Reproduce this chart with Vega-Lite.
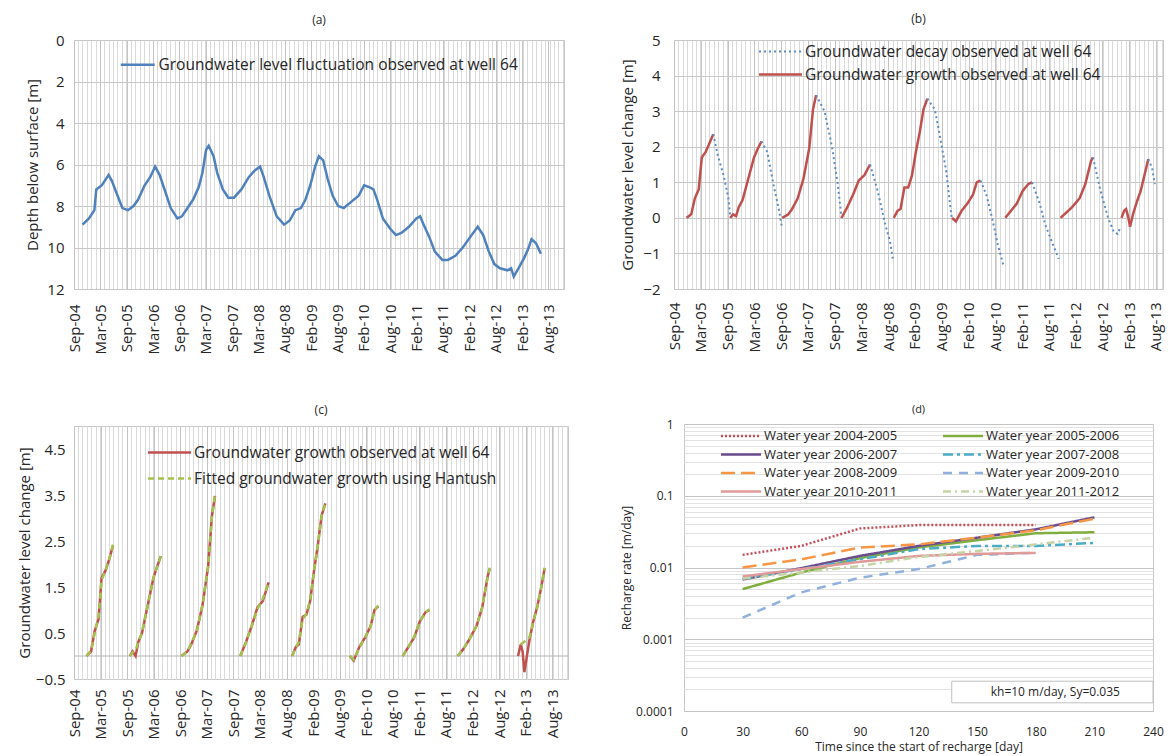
{
  "$schema": "https://vega.github.io/schema/vega-lite/v6.json",
  "background": "white",
  "padding": {"left": 16, "top": 12, "right": 5, "bottom": 2},
  "config": {
    "font": "Open Sans",
    "axis": {"labelColor": "#262626", "titleColor": "#262626", "titleFontWeight": "normal", "domain": false, "ticks": false, "labelFontSize": 15, "titleFontSize": 15, "gridColor": "#c8c8c8", "labelFlush": false, "labelOverlap": false},
    "legend": {"labelColor": "#262626", "padding": 0, "labelFontSize": 15.5, "title": null, "labelLimit": 600},
    "title": {"fontWeight": "normal", "fontSize": 12, "color": "#262626"},
    "view": {"stroke": "#c8c8c8"}
  },
  "columns": 2,
  "align": "none",
  "spacing": {"row": 48, "column": 51},
  "resolve": {"scale": {"color": "independent", "strokeDash": "independent", "strokeWidth": "independent"}},
  "datasets": {
    "a": [
      {"d": "2004-11-02", "v": 8.9}, {"d": "2004-12-16", "v": 8.6}, {"d": "2005-01-23", "v": 8.2}, {"d": "2005-02-05", "v": 7.2},
      {"d": "2005-03-16", "v": 7.0}, {"d": "2005-05-01", "v": 6.5}, {"d": "2005-05-24", "v": 6.8}, {"d": "2005-06-26", "v": 7.4},
      {"d": "2005-08-04", "v": 8.1}, {"d": "2005-09-12", "v": 8.2}, {"d": "2005-10-20", "v": 8.0}, {"d": "2005-11-20", "v": 7.7},
      {"d": "2006-01-05", "v": 7.0}, {"d": "2006-02-13", "v": 6.6}, {"d": "2006-03-18", "v": 6.1}, {"d": "2006-04-18", "v": 6.5},
      {"d": "2006-05-27", "v": 7.3}, {"d": "2006-07-04", "v": 8.1}, {"d": "2006-08-19", "v": 8.6}, {"d": "2006-09-19", "v": 8.5},
      {"d": "2006-10-28", "v": 8.1}, {"d": "2006-12-05", "v": 7.7}, {"d": "2007-01-13", "v": 7.1}, {"d": "2007-02-08", "v": 6.4},
      {"d": "2007-03-05", "v": 5.3}, {"d": "2007-03-23", "v": 5.1}, {"d": "2007-04-26", "v": 5.6}, {"d": "2007-05-21", "v": 6.4},
      {"d": "2007-06-29", "v": 7.2}, {"d": "2007-08-06", "v": 7.6}, {"d": "2007-09-14", "v": 7.6}, {"d": "2007-11-04", "v": 7.2},
      {"d": "2007-12-26", "v": 6.6}, {"d": "2008-02-03", "v": 6.3}, {"d": "2008-03-12", "v": 6.1}, {"d": "2008-04-06", "v": 6.6},
      {"d": "2008-05-15", "v": 7.5}, {"d": "2008-07-05", "v": 8.5}, {"d": "2008-08-25", "v": 8.9}, {"d": "2008-10-03", "v": 8.7},
      {"d": "2008-11-11", "v": 8.2}, {"d": "2008-12-19", "v": 8.1}, {"d": "2009-01-19", "v": 7.7}, {"d": "2009-02-22", "v": 7.0},
      {"d": "2009-03-27", "v": 6.1}, {"d": "2009-04-22", "v": 5.6}, {"d": "2009-05-22", "v": 5.8}, {"d": "2009-06-22", "v": 6.7},
      {"d": "2009-07-26", "v": 7.5}, {"d": "2009-09-02", "v": 8.0}, {"d": "2009-10-11", "v": 8.1}, {"d": "2009-12-01", "v": 7.8},
      {"d": "2010-01-22", "v": 7.5}, {"d": "2010-03-01", "v": 7.0}, {"d": "2010-04-09", "v": 7.1}, {"d": "2010-05-04", "v": 7.2},
      {"d": "2010-05-30", "v": 7.7}, {"d": "2010-07-08", "v": 8.6}, {"d": "2010-08-28", "v": 9.1}, {"d": "2010-10-06", "v": 9.4},
      {"d": "2010-11-13", "v": 9.3}, {"d": "2011-01-04", "v": 9.0}, {"d": "2011-02-24", "v": 8.6}, {"d": "2011-03-22", "v": 8.5},
      {"d": "2011-04-16", "v": 8.9}, {"d": "2011-05-25", "v": 9.5}, {"d": "2011-07-02", "v": 10.2}, {"d": "2011-08-23", "v": 10.6},
      {"d": "2011-09-30", "v": 10.6}, {"d": "2011-11-21", "v": 10.4}, {"d": "2012-01-11", "v": 10.0}, {"d": "2012-03-02", "v": 9.5},
      {"d": "2012-04-23", "v": 9.0}, {"d": "2012-05-31", "v": 9.4}, {"d": "2012-07-09", "v": 10.2}, {"d": "2012-08-16", "v": 10.8},
      {"d": "2012-09-24", "v": 11.0}, {"d": "2012-11-14", "v": 11.1}, {"d": "2012-12-10", "v": 11.0}, {"d": "2012-12-28", "v": 11.4},
      {"d": "2013-01-30", "v": 11.0}, {"d": "2013-03-10", "v": 10.5}, {"d": "2013-04-05", "v": 10.1}, {"d": "2013-04-30", "v": 9.6},
      {"d": "2013-05-31", "v": 9.8}, {"d": "2013-07-03", "v": 10.3}
    ],
    "b": [
      {"s": "Groundwater growth observed at well 64", "g": 1, "d": "2004-11-28", "v": 0},
      {"s": "Groundwater growth observed at well 64", "g": 1, "d": "2004-12-30", "v": 0.1},
      {"s": "Groundwater growth observed at well 64", "g": 1, "d": "2005-01-24", "v": 0.55},
      {"s": "Groundwater growth observed at well 64", "g": 1, "d": "2005-02-19", "v": 0.8},
      {"s": "Groundwater growth observed at well 64", "g": 1, "d": "2005-03-12", "v": 1.7},
      {"s": "Groundwater growth observed at well 64", "g": 1, "d": "2005-04-07", "v": 1.85},
      {"s": "Groundwater growth observed at well 64", "g": 1, "d": "2005-05-03", "v": 2.1},
      {"s": "Groundwater growth observed at well 64", "g": 1, "d": "2005-05-29", "v": 2.35},
      {"s": "Groundwater decay observed at well 64", "g": 1, "d": "2005-05-29", "v": 2.35},
      {"s": "Groundwater decay observed at well 64", "g": 1, "d": "2005-06-29", "v": 1.75},
      {"s": "Groundwater decay observed at well 64", "g": 1, "d": "2005-08-07", "v": 1.2},
      {"s": "Groundwater decay observed at well 64", "g": 1, "d": "2005-09-09", "v": 0.55},
      {"s": "Groundwater decay observed at well 64", "g": 1, "d": "2005-09-22", "v": 0},
      {"s": "Groundwater growth observed at well 64", "g": 2, "d": "2005-09-22", "v": 0},
      {"s": "Groundwater growth observed at well 64", "g": 2, "d": "2005-10-10", "v": 0.1},
      {"s": "Groundwater growth observed at well 64", "g": 2, "d": "2005-10-31", "v": 0.05},
      {"s": "Groundwater growth observed at well 64", "g": 2, "d": "2005-11-18", "v": 0.3},
      {"s": "Groundwater growth observed at well 64", "g": 2, "d": "2005-12-14", "v": 0.5},
      {"s": "Groundwater growth observed at well 64", "g": 2, "d": "2006-01-22", "v": 1.1},
      {"s": "Groundwater growth observed at well 64", "g": 2, "d": "2006-03-02", "v": 1.7},
      {"s": "Groundwater growth observed at well 64", "g": 2, "d": "2006-03-28", "v": 1.95},
      {"s": "Groundwater growth observed at well 64", "g": 2, "d": "2006-04-22", "v": 2.15},
      {"s": "Groundwater decay observed at well 64", "g": 2, "d": "2006-04-22", "v": 2.15},
      {"s": "Groundwater decay observed at well 64", "g": 2, "d": "2006-05-31", "v": 1.85},
      {"s": "Groundwater decay observed at well 64", "g": 2, "d": "2006-07-09", "v": 1.0},
      {"s": "Groundwater decay observed at well 64", "g": 2, "d": "2006-08-17", "v": 0.25},
      {"s": "Groundwater decay observed at well 64", "g": 2, "d": "2006-09-07", "v": -0.25},
      {"s": "Groundwater growth observed at well 64", "g": 3, "d": "2006-09-10", "v": 0},
      {"s": "Groundwater growth observed at well 64", "g": 3, "d": "2006-10-21", "v": 0.1},
      {"s": "Groundwater growth observed at well 64", "g": 3, "d": "2006-11-16", "v": 0.25},
      {"s": "Groundwater growth observed at well 64", "g": 3, "d": "2006-12-24", "v": 0.55},
      {"s": "Groundwater growth observed at well 64", "g": 3, "d": "2007-02-01", "v": 1.1},
      {"s": "Groundwater growth observed at well 64", "g": 3, "d": "2007-03-12", "v": 1.95},
      {"s": "Groundwater growth observed at well 64", "g": 3, "d": "2007-04-07", "v": 3.05},
      {"s": "Groundwater growth observed at well 64", "g": 3, "d": "2007-04-28", "v": 3.45},
      {"s": "Groundwater decay observed at well 64", "g": 3, "d": "2007-04-28", "v": 3.45},
      {"s": "Groundwater decay observed at well 64", "g": 3, "d": "2007-06-24", "v": 3.0},
      {"s": "Groundwater decay observed at well 64", "g": 3, "d": "2007-08-14", "v": 2.0},
      {"s": "Groundwater decay observed at well 64", "g": 3, "d": "2007-09-22", "v": 0.95},
      {"s": "Groundwater decay observed at well 64", "g": 3, "d": "2007-10-18", "v": 0},
      {"s": "Groundwater growth observed at well 64", "g": 4, "d": "2007-10-18", "v": 0},
      {"s": "Groundwater growth observed at well 64", "g": 4, "d": "2007-11-26", "v": 0.3},
      {"s": "Groundwater growth observed at well 64", "g": 4, "d": "2008-01-04", "v": 0.65},
      {"s": "Groundwater growth observed at well 64", "g": 4, "d": "2008-02-12", "v": 1.05},
      {"s": "Groundwater growth observed at well 64", "g": 4, "d": "2008-03-21", "v": 1.2},
      {"s": "Groundwater growth observed at well 64", "g": 4, "d": "2008-04-29", "v": 1.5},
      {"s": "Groundwater decay observed at well 64", "g": 4, "d": "2008-04-29", "v": 1.5},
      {"s": "Groundwater decay observed at well 64", "g": 4, "d": "2008-06-20", "v": 0.75},
      {"s": "Groundwater decay observed at well 64", "g": 4, "d": "2008-08-11", "v": -0.2},
      {"s": "Groundwater decay observed at well 64", "g": 4, "d": "2008-09-11", "v": -0.65},
      {"s": "Groundwater decay observed at well 64", "g": 4, "d": "2008-10-02", "v": -1.2},
      {"s": "Groundwater growth observed at well 64", "g": 5, "d": "2008-10-07", "v": 0},
      {"s": "Groundwater growth observed at well 64", "g": 5, "d": "2008-11-02", "v": 0.2},
      {"s": "Groundwater growth observed at well 64", "g": 5, "d": "2008-11-22", "v": 0.25},
      {"s": "Groundwater growth observed at well 64", "g": 5, "d": "2008-12-18", "v": 0.85},
      {"s": "Groundwater growth observed at well 64", "g": 5, "d": "2009-01-13", "v": 0.85},
      {"s": "Groundwater growth observed at well 64", "g": 5, "d": "2009-02-08", "v": 1.2},
      {"s": "Groundwater growth observed at well 64", "g": 5, "d": "2009-03-06", "v": 1.85},
      {"s": "Groundwater growth observed at well 64", "g": 5, "d": "2009-04-01", "v": 2.4},
      {"s": "Groundwater growth observed at well 64", "g": 5, "d": "2009-04-27", "v": 3.05},
      {"s": "Groundwater growth observed at well 64", "g": 5, "d": "2009-05-23", "v": 3.35},
      {"s": "Groundwater decay observed at well 64", "g": 5, "d": "2009-05-23", "v": 3.35},
      {"s": "Groundwater decay observed at well 64", "g": 5, "d": "2009-07-13", "v": 3.05},
      {"s": "Groundwater decay observed at well 64", "g": 5, "d": "2009-08-21", "v": 2.2},
      {"s": "Groundwater decay observed at well 64", "g": 5, "d": "2009-09-29", "v": 1.3},
      {"s": "Groundwater decay observed at well 64", "g": 5, "d": "2009-10-25", "v": 0.35},
      {"s": "Groundwater decay observed at well 64", "g": 5, "d": "2009-11-07", "v": -0.05},
      {"s": "Groundwater growth observed at well 64", "g": 6, "d": "2009-11-07", "v": 0},
      {"s": "Groundwater growth observed at well 64", "g": 6, "d": "2009-12-03", "v": -0.1},
      {"s": "Groundwater growth observed at well 64", "g": 6, "d": "2010-01-11", "v": 0.2},
      {"s": "Groundwater growth observed at well 64", "g": 6, "d": "2010-02-19", "v": 0.4},
      {"s": "Groundwater growth observed at well 64", "g": 6, "d": "2010-03-29", "v": 0.65},
      {"s": "Groundwater growth observed at well 64", "g": 6, "d": "2010-04-24", "v": 1.0},
      {"s": "Groundwater growth observed at well 64", "g": 6, "d": "2010-05-20", "v": 1.05},
      {"s": "Groundwater decay observed at well 64", "g": 6, "d": "2010-05-20", "v": 1.05},
      {"s": "Groundwater decay observed at well 64", "g": 6, "d": "2010-06-28", "v": 0.65},
      {"s": "Groundwater decay observed at well 64", "g": 6, "d": "2010-08-06", "v": 0},
      {"s": "Groundwater decay observed at well 64", "g": 6, "d": "2010-09-14", "v": -0.75},
      {"s": "Groundwater decay observed at well 64", "g": 6, "d": "2010-10-23", "v": -1.35},
      {"s": "Groundwater growth observed at well 64", "g": 7, "d": "2010-11-04", "v": 0},
      {"s": "Groundwater growth observed at well 64", "g": 7, "d": "2010-12-13", "v": 0.2},
      {"s": "Groundwater growth observed at well 64", "g": 7, "d": "2011-01-21", "v": 0.4},
      {"s": "Groundwater growth observed at well 64", "g": 7, "d": "2011-03-01", "v": 0.75},
      {"s": "Groundwater growth observed at well 64", "g": 7, "d": "2011-04-09", "v": 0.95},
      {"s": "Groundwater growth observed at well 64", "g": 7, "d": "2011-05-05", "v": 1.0},
      {"s": "Groundwater decay observed at well 64", "g": 7, "d": "2011-05-05", "v": 1.0},
      {"s": "Groundwater decay observed at well 64", "g": 7, "d": "2011-06-26", "v": 0.4},
      {"s": "Groundwater decay observed at well 64", "g": 7, "d": "2011-08-03", "v": -0.2},
      {"s": "Groundwater decay observed at well 64", "g": 7, "d": "2011-09-24", "v": -0.75},
      {"s": "Groundwater decay observed at well 64", "g": 7, "d": "2011-11-02", "v": -1.15},
      {"s": "Groundwater growth observed at well 64", "g": 8, "d": "2011-11-15", "v": 0},
      {"s": "Groundwater growth observed at well 64", "g": 8, "d": "2011-12-24", "v": 0.15},
      {"s": "Groundwater growth observed at well 64", "g": 8, "d": "2012-02-01", "v": 0.3},
      {"s": "Groundwater growth observed at well 64", "g": 8, "d": "2012-03-23", "v": 0.55},
      {"s": "Groundwater growth observed at well 64", "g": 8, "d": "2012-05-01", "v": 0.95},
      {"s": "Groundwater growth observed at well 64", "g": 8, "d": "2012-06-09", "v": 1.6},
      {"s": "Groundwater growth observed at well 64", "g": 8, "d": "2012-06-22", "v": 1.7},
      {"s": "Groundwater decay observed at well 64", "g": 8, "d": "2012-06-22", "v": 1.7},
      {"s": "Groundwater decay observed at well 64", "g": 8, "d": "2012-08-13", "v": 0.75},
      {"s": "Groundwater decay observed at well 64", "g": 8, "d": "2012-10-03", "v": 0},
      {"s": "Groundwater decay observed at well 64", "g": 8, "d": "2012-11-11", "v": -0.4},
      {"s": "Groundwater decay observed at well 64", "g": 8, "d": "2012-12-07", "v": -0.45},
      {"s": "Groundwater decay observed at well 64", "g": 8, "d": "2012-12-22", "v": -0.3},
      {"s": "Groundwater growth observed at well 64", "g": 9, "d": "2013-01-02", "v": 0},
      {"s": "Groundwater growth observed at well 64", "g": 9, "d": "2013-01-20", "v": 0.2},
      {"s": "Groundwater growth observed at well 64", "g": 9, "d": "2013-02-02", "v": 0.25},
      {"s": "Groundwater growth observed at well 64", "g": 9, "d": "2013-02-18", "v": 0},
      {"s": "Groundwater growth observed at well 64", "g": 9, "d": "2013-03-01", "v": -0.25},
      {"s": "Groundwater growth observed at well 64", "g": 9, "d": "2013-03-21", "v": 0.1},
      {"s": "Groundwater growth observed at well 64", "g": 9, "d": "2013-04-16", "v": 0.45},
      {"s": "Groundwater growth observed at well 64", "g": 9, "d": "2013-05-12", "v": 0.75},
      {"s": "Groundwater growth observed at well 64", "g": 9, "d": "2013-06-07", "v": 1.2},
      {"s": "Groundwater growth observed at well 64", "g": 9, "d": "2013-07-03", "v": 1.65},
      {"s": "Groundwater decay observed at well 64", "g": 9, "d": "2013-07-03", "v": 1.65},
      {"s": "Groundwater decay observed at well 64", "g": 9, "d": "2013-07-29", "v": 1.4},
      {"s": "Groundwater decay observed at well 64", "g": 9, "d": "2013-08-16", "v": 0.95}
    ],
    "c": [
      {"s": "Groundwater growth observed at well 64", "g": 1, "d": "2004-11-28", "v": 0},
      {"s": "Groundwater growth observed at well 64", "g": 1, "d": "2004-12-30", "v": 0.1},
      {"s": "Groundwater growth observed at well 64", "g": 1, "d": "2005-01-24", "v": 0.55},
      {"s": "Groundwater growth observed at well 64", "g": 1, "d": "2005-02-19", "v": 0.8},
      {"s": "Groundwater growth observed at well 64", "g": 1, "d": "2005-03-12", "v": 1.7},
      {"s": "Groundwater growth observed at well 64", "g": 1, "d": "2005-04-07", "v": 1.85},
      {"s": "Groundwater growth observed at well 64", "g": 1, "d": "2005-05-03", "v": 2.1},
      {"s": "Groundwater growth observed at well 64", "g": 1, "d": "2005-05-29", "v": 2.4},
      {"s": "Groundwater growth observed at well 64", "g": 2, "d": "2005-09-22", "v": 0},
      {"s": "Groundwater growth observed at well 64", "g": 2, "d": "2005-10-10", "v": 0.1},
      {"s": "Groundwater growth observed at well 64", "g": 2, "d": "2005-10-31", "v": 0.0},
      {"s": "Groundwater growth observed at well 64", "g": 2, "d": "2005-11-18", "v": 0.3},
      {"s": "Groundwater growth observed at well 64", "g": 2, "d": "2005-12-14", "v": 0.5},
      {"s": "Groundwater growth observed at well 64", "g": 2, "d": "2006-01-22", "v": 1.1},
      {"s": "Groundwater growth observed at well 64", "g": 2, "d": "2006-03-02", "v": 1.7},
      {"s": "Groundwater growth observed at well 64", "g": 2, "d": "2006-03-28", "v": 1.95},
      {"s": "Groundwater growth observed at well 64", "g": 2, "d": "2006-04-22", "v": 2.17},
      {"s": "Groundwater growth observed at well 64", "g": 3, "d": "2006-09-10", "v": 0},
      {"s": "Groundwater growth observed at well 64", "g": 3, "d": "2006-10-21", "v": 0.1},
      {"s": "Groundwater growth observed at well 64", "g": 3, "d": "2006-11-16", "v": 0.25},
      {"s": "Groundwater growth observed at well 64", "g": 3, "d": "2006-12-24", "v": 0.55},
      {"s": "Groundwater growth observed at well 64", "g": 3, "d": "2007-02-01", "v": 1.1},
      {"s": "Groundwater growth observed at well 64", "g": 3, "d": "2007-03-12", "v": 1.95},
      {"s": "Groundwater growth observed at well 64", "g": 3, "d": "2007-04-07", "v": 3.05},
      {"s": "Groundwater growth observed at well 64", "g": 3, "d": "2007-04-28", "v": 3.48},
      {"s": "Groundwater growth observed at well 64", "g": 4, "d": "2007-10-18", "v": 0},
      {"s": "Groundwater growth observed at well 64", "g": 4, "d": "2007-11-26", "v": 0.3},
      {"s": "Groundwater growth observed at well 64", "g": 4, "d": "2008-01-04", "v": 0.65},
      {"s": "Groundwater growth observed at well 64", "g": 4, "d": "2008-02-12", "v": 1.05},
      {"s": "Groundwater growth observed at well 64", "g": 4, "d": "2008-03-21", "v": 1.2},
      {"s": "Groundwater growth observed at well 64", "g": 4, "d": "2008-04-29", "v": 1.6},
      {"s": "Groundwater growth observed at well 64", "g": 5, "d": "2008-10-07", "v": 0},
      {"s": "Groundwater growth observed at well 64", "g": 5, "d": "2008-11-02", "v": 0.2},
      {"s": "Groundwater growth observed at well 64", "g": 5, "d": "2008-11-22", "v": 0.25},
      {"s": "Groundwater growth observed at well 64", "g": 5, "d": "2008-12-18", "v": 0.85},
      {"s": "Groundwater growth observed at well 64", "g": 5, "d": "2009-01-13", "v": 0.9},
      {"s": "Groundwater growth observed at well 64", "g": 5, "d": "2009-02-08", "v": 1.2},
      {"s": "Groundwater growth observed at well 64", "g": 5, "d": "2009-03-06", "v": 1.85},
      {"s": "Groundwater growth observed at well 64", "g": 5, "d": "2009-04-01", "v": 2.4},
      {"s": "Groundwater growth observed at well 64", "g": 5, "d": "2009-04-27", "v": 3.05},
      {"s": "Groundwater growth observed at well 64", "g": 5, "d": "2009-05-23", "v": 3.32},
      {"s": "Groundwater growth observed at well 64", "g": 6, "d": "2009-11-07", "v": 0},
      {"s": "Groundwater growth observed at well 64", "g": 6, "d": "2009-12-03", "v": -0.1},
      {"s": "Groundwater growth observed at well 64", "g": 6, "d": "2010-01-11", "v": 0.2},
      {"s": "Groundwater growth observed at well 64", "g": 6, "d": "2010-02-19", "v": 0.4},
      {"s": "Groundwater growth observed at well 64", "g": 6, "d": "2010-03-29", "v": 0.65},
      {"s": "Groundwater growth observed at well 64", "g": 6, "d": "2010-04-24", "v": 1.0},
      {"s": "Groundwater growth observed at well 64", "g": 6, "d": "2010-05-20", "v": 1.08},
      {"s": "Groundwater growth observed at well 64", "g": 7, "d": "2010-11-04", "v": 0},
      {"s": "Groundwater growth observed at well 64", "g": 7, "d": "2010-12-13", "v": 0.2},
      {"s": "Groundwater growth observed at well 64", "g": 7, "d": "2011-01-21", "v": 0.4},
      {"s": "Groundwater growth observed at well 64", "g": 7, "d": "2011-03-01", "v": 0.75},
      {"s": "Groundwater growth observed at well 64", "g": 7, "d": "2011-04-09", "v": 0.95},
      {"s": "Groundwater growth observed at well 64", "g": 7, "d": "2011-05-05", "v": 1.0},
      {"s": "Groundwater growth observed at well 64", "g": 8, "d": "2011-11-15", "v": 0},
      {"s": "Groundwater growth observed at well 64", "g": 8, "d": "2011-12-24", "v": 0.15},
      {"s": "Groundwater growth observed at well 64", "g": 8, "d": "2012-02-01", "v": 0.35},
      {"s": "Groundwater growth observed at well 64", "g": 8, "d": "2012-03-23", "v": 0.65},
      {"s": "Groundwater growth observed at well 64", "g": 8, "d": "2012-05-01", "v": 1.05},
      {"s": "Groundwater growth observed at well 64", "g": 8, "d": "2012-06-09", "v": 1.75},
      {"s": "Groundwater growth observed at well 64", "g": 8, "d": "2012-06-22", "v": 1.9},
      {"s": "Groundwater growth observed at well 64", "g": 9, "d": "2013-01-02", "v": 0},
      {"s": "Groundwater growth observed at well 64", "g": 9, "d": "2013-01-20", "v": 0.25},
      {"s": "Groundwater growth observed at well 64", "g": 9, "d": "2013-02-02", "v": 0.1},
      {"s": "Groundwater growth observed at well 64", "g": 9, "d": "2013-02-14", "v": -0.35},
      {"s": "Groundwater growth observed at well 64", "g": 9, "d": "2013-03-21", "v": 0.35},
      {"s": "Groundwater growth observed at well 64", "g": 9, "d": "2013-04-16", "v": 0.75},
      {"s": "Groundwater growth observed at well 64", "g": 9, "d": "2013-05-12", "v": 1.05},
      {"s": "Groundwater growth observed at well 64", "g": 9, "d": "2013-06-07", "v": 1.45},
      {"s": "Groundwater growth observed at well 64", "g": 9, "d": "2013-07-03", "v": 1.9},
      {"s": "Fitted groundwater growth using Hantush", "g": 1, "d": "2004-11-28", "v": 0},
      {"s": "Fitted groundwater growth using Hantush", "g": 1, "d": "2004-12-30", "v": 0.12},
      {"s": "Fitted groundwater growth using Hantush", "g": 1, "d": "2005-01-24", "v": 0.5},
      {"s": "Fitted groundwater growth using Hantush", "g": 1, "d": "2005-02-19", "v": 0.85},
      {"s": "Fitted groundwater growth using Hantush", "g": 1, "d": "2005-03-12", "v": 1.65},
      {"s": "Fitted groundwater growth using Hantush", "g": 1, "d": "2005-04-07", "v": 1.85},
      {"s": "Fitted groundwater growth using Hantush", "g": 1, "d": "2005-05-03", "v": 2.1},
      {"s": "Fitted groundwater growth using Hantush", "g": 1, "d": "2005-05-29", "v": 2.42},
      {"s": "Fitted groundwater growth using Hantush", "g": 2, "d": "2005-09-22", "v": 0},
      {"s": "Fitted groundwater growth using Hantush", "g": 2, "d": "2005-10-10", "v": 0.08},
      {"s": "Fitted groundwater growth using Hantush", "g": 2, "d": "2005-10-31", "v": 0.12},
      {"s": "Fitted groundwater growth using Hantush", "g": 2, "d": "2005-11-18", "v": 0.3},
      {"s": "Fitted groundwater growth using Hantush", "g": 2, "d": "2005-12-14", "v": 0.52},
      {"s": "Fitted groundwater growth using Hantush", "g": 2, "d": "2006-01-22", "v": 1.1},
      {"s": "Fitted groundwater growth using Hantush", "g": 2, "d": "2006-03-02", "v": 1.7},
      {"s": "Fitted groundwater growth using Hantush", "g": 2, "d": "2006-03-28", "v": 1.95},
      {"s": "Fitted groundwater growth using Hantush", "g": 2, "d": "2006-04-22", "v": 2.17},
      {"s": "Fitted groundwater growth using Hantush", "g": 3, "d": "2006-09-10", "v": 0},
      {"s": "Fitted groundwater growth using Hantush", "g": 3, "d": "2006-10-21", "v": 0.1},
      {"s": "Fitted groundwater growth using Hantush", "g": 3, "d": "2006-11-16", "v": 0.27},
      {"s": "Fitted groundwater growth using Hantush", "g": 3, "d": "2006-12-24", "v": 0.55},
      {"s": "Fitted groundwater growth using Hantush", "g": 3, "d": "2007-02-01", "v": 1.1},
      {"s": "Fitted groundwater growth using Hantush", "g": 3, "d": "2007-03-12", "v": 1.95},
      {"s": "Fitted groundwater growth using Hantush", "g": 3, "d": "2007-04-07", "v": 3.05},
      {"s": "Fitted groundwater growth using Hantush", "g": 3, "d": "2007-04-28", "v": 3.5},
      {"s": "Fitted groundwater growth using Hantush", "g": 4, "d": "2007-10-18", "v": 0},
      {"s": "Fitted groundwater growth using Hantush", "g": 4, "d": "2007-11-26", "v": 0.3},
      {"s": "Fitted groundwater growth using Hantush", "g": 4, "d": "2008-01-04", "v": 0.65},
      {"s": "Fitted groundwater growth using Hantush", "g": 4, "d": "2008-02-12", "v": 1.02},
      {"s": "Fitted groundwater growth using Hantush", "g": 4, "d": "2008-03-21", "v": 1.25},
      {"s": "Fitted groundwater growth using Hantush", "g": 4, "d": "2008-04-29", "v": 1.6},
      {"s": "Fitted groundwater growth using Hantush", "g": 5, "d": "2008-10-07", "v": 0},
      {"s": "Fitted groundwater growth using Hantush", "g": 5, "d": "2008-11-02", "v": 0.18},
      {"s": "Fitted groundwater growth using Hantush", "g": 5, "d": "2008-11-22", "v": 0.3},
      {"s": "Fitted groundwater growth using Hantush", "g": 5, "d": "2008-12-18", "v": 0.8},
      {"s": "Fitted groundwater growth using Hantush", "g": 5, "d": "2009-01-13", "v": 0.92},
      {"s": "Fitted groundwater growth using Hantush", "g": 5, "d": "2009-02-08", "v": 1.2},
      {"s": "Fitted groundwater growth using Hantush", "g": 5, "d": "2009-03-06", "v": 1.85},
      {"s": "Fitted groundwater growth using Hantush", "g": 5, "d": "2009-04-01", "v": 2.4},
      {"s": "Fitted groundwater growth using Hantush", "g": 5, "d": "2009-04-27", "v": 3.05},
      {"s": "Fitted groundwater growth using Hantush", "g": 5, "d": "2009-05-23", "v": 3.3},
      {"s": "Fitted groundwater growth using Hantush", "g": 6, "d": "2009-11-07", "v": 0},
      {"s": "Fitted groundwater growth using Hantush", "g": 6, "d": "2009-12-03", "v": -0.08},
      {"s": "Fitted groundwater growth using Hantush", "g": 6, "d": "2010-01-11", "v": 0.18},
      {"s": "Fitted groundwater growth using Hantush", "g": 6, "d": "2010-02-19", "v": 0.4},
      {"s": "Fitted groundwater growth using Hantush", "g": 6, "d": "2010-03-29", "v": 0.65},
      {"s": "Fitted groundwater growth using Hantush", "g": 6, "d": "2010-04-24", "v": 0.98},
      {"s": "Fitted groundwater growth using Hantush", "g": 6, "d": "2010-05-20", "v": 1.1},
      {"s": "Fitted groundwater growth using Hantush", "g": 7, "d": "2010-11-04", "v": 0},
      {"s": "Fitted groundwater growth using Hantush", "g": 7, "d": "2010-12-13", "v": 0.2},
      {"s": "Fitted groundwater growth using Hantush", "g": 7, "d": "2011-01-21", "v": 0.42},
      {"s": "Fitted groundwater growth using Hantush", "g": 7, "d": "2011-03-01", "v": 0.75},
      {"s": "Fitted groundwater growth using Hantush", "g": 7, "d": "2011-04-09", "v": 0.95},
      {"s": "Fitted groundwater growth using Hantush", "g": 7, "d": "2011-05-05", "v": 1.02},
      {"s": "Fitted groundwater growth using Hantush", "g": 8, "d": "2011-11-15", "v": 0},
      {"s": "Fitted groundwater growth using Hantush", "g": 8, "d": "2011-12-24", "v": 0.15},
      {"s": "Fitted groundwater growth using Hantush", "g": 8, "d": "2012-02-01", "v": 0.35},
      {"s": "Fitted groundwater growth using Hantush", "g": 8, "d": "2012-03-23", "v": 0.65},
      {"s": "Fitted groundwater growth using Hantush", "g": 8, "d": "2012-05-01", "v": 1.05},
      {"s": "Fitted groundwater growth using Hantush", "g": 8, "d": "2012-06-09", "v": 1.75},
      {"s": "Fitted groundwater growth using Hantush", "g": 8, "d": "2012-06-22", "v": 1.92},
      {"s": "Fitted groundwater growth using Hantush", "g": 9, "d": "2013-01-20", "v": 0.25},
      {"s": "Fitted groundwater growth using Hantush", "g": 9, "d": "2013-03-21", "v": 0.4},
      {"s": "Fitted groundwater growth using Hantush", "g": 9, "d": "2013-04-16", "v": 0.75},
      {"s": "Fitted groundwater growth using Hantush", "g": 9, "d": "2013-05-12", "v": 1.05},
      {"s": "Fitted groundwater growth using Hantush", "g": 9, "d": "2013-06-07", "v": 1.45},
      {"s": "Fitted groundwater growth using Hantush", "g": 9, "d": "2013-07-03", "v": 1.92}
    ],
    "d": [
      {"s": "Water year 2004-2005", "t": 30, "v": 0.015}, {"s": "Water year 2004-2005", "t": 60, "v": 0.02}, {"s": "Water year 2004-2005", "t": 90, "v": 0.035}, {"s": "Water year 2004-2005", "t": 120, "v": 0.039}, {"s": "Water year 2004-2005", "t": 150, "v": 0.039}, {"s": "Water year 2004-2005", "t": 180, "v": 0.039},
      {"s": "Water year 2005-2006", "t": 30, "v": 0.005}, {"s": "Water year 2005-2006", "t": 60, "v": 0.0085}, {"s": "Water year 2005-2006", "t": 90, "v": 0.0135}, {"s": "Water year 2005-2006", "t": 120, "v": 0.019}, {"s": "Water year 2005-2006", "t": 150, "v": 0.024}, {"s": "Water year 2005-2006", "t": 180, "v": 0.03}, {"s": "Water year 2005-2006", "t": 210, "v": 0.031},
      {"s": "Water year 2006-2007", "t": 30, "v": 0.0068}, {"s": "Water year 2006-2007", "t": 60, "v": 0.0098}, {"s": "Water year 2006-2007", "t": 90, "v": 0.0145}, {"s": "Water year 2006-2007", "t": 120, "v": 0.02}, {"s": "Water year 2006-2007", "t": 150, "v": 0.026}, {"s": "Water year 2006-2007", "t": 180, "v": 0.034}, {"s": "Water year 2006-2007", "t": 210, "v": 0.05},
      {"s": "Water year 2007-2008", "t": 30, "v": 0.007}, {"s": "Water year 2007-2008", "t": 60, "v": 0.0095}, {"s": "Water year 2007-2008", "t": 90, "v": 0.013}, {"s": "Water year 2007-2008", "t": 120, "v": 0.018}, {"s": "Water year 2007-2008", "t": 150, "v": 0.02}, {"s": "Water year 2007-2008", "t": 180, "v": 0.02}, {"s": "Water year 2007-2008", "t": 210, "v": 0.022},
      {"s": "Water year 2008-2009", "t": 30, "v": 0.01}, {"s": "Water year 2008-2009", "t": 60, "v": 0.013}, {"s": "Water year 2008-2009", "t": 90, "v": 0.019}, {"s": "Water year 2008-2009", "t": 120, "v": 0.021}, {"s": "Water year 2008-2009", "t": 150, "v": 0.026}, {"s": "Water year 2008-2009", "t": 180, "v": 0.033}, {"s": "Water year 2008-2009", "t": 210, "v": 0.048},
      {"s": "Water year 2009-2010", "t": 30, "v": 0.002}, {"s": "Water year 2009-2010", "t": 60, "v": 0.0045}, {"s": "Water year 2009-2010", "t": 90, "v": 0.0072}, {"s": "Water year 2009-2010", "t": 120, "v": 0.0095}, {"s": "Water year 2009-2010", "t": 150, "v": 0.015}, {"s": "Water year 2009-2010", "t": 180, "v": 0.016},
      {"s": "Water year 2010-2011", "t": 30, "v": 0.0075}, {"s": "Water year 2010-2011", "t": 60, "v": 0.0095}, {"s": "Water year 2010-2011", "t": 90, "v": 0.012}, {"s": "Water year 2010-2011", "t": 120, "v": 0.0145}, {"s": "Water year 2010-2011", "t": 150, "v": 0.0155}, {"s": "Water year 2010-2011", "t": 180, "v": 0.016},
      {"s": "Water year 2011-2012", "t": 30, "v": 0.007}, {"s": "Water year 2011-2012", "t": 60, "v": 0.0085}, {"s": "Water year 2011-2012", "t": 90, "v": 0.0105}, {"s": "Water year 2011-2012", "t": 120, "v": 0.014}, {"s": "Water year 2011-2012", "t": 150, "v": 0.017}, {"s": "Water year 2011-2012", "t": 180, "v": 0.021}, {"s": "Water year 2011-2012", "t": 210, "v": 0.026}
    ]
  },
  "concat": [
    {
      "width": 490, "height": 249,
      "title": {"text": "(a)", "frame": "group", "offset": 6},
      "data": {"name": "a"},
      "layer": [
        {"mark": {"type": "rule", "strokeOpacity": 0},
         "encoding": {"x": {"field": "d", "type": "temporal", "scale": {"domain": [1094256000000, 1386633600000], "nice": false},
           "axis": {"orient": "bottom", "tickCount": {"interval": "month", "step": 1}, "labels": false, "grid": true, "gridColor": "#dadada", "title": null}}}},
        {"mark": {"type": "line", "strokeWidth": 2.5},
         "encoding": {
           "x": {"field": "d", "type": "temporal",
             "axis": {"orient": "bottom", "values": [1094256000000,1109980800000,1125705600000,1141430400000,1157155200000,1172880000000,1188604800000,1204329600000,1220054400000,1235779200000,1251504000000,1267228800000,1282953600000,1298678400000,1314403200000,1330128000000,1345852800000,1361577600000,1377302400000],
               "labelExpr": "utcFormat(datum.value, '%b-%y')", "labelAngle": -90, "labelPadding": 15, "grid": true, "gridColor": "#c4c4c4", "title": null}},
           "y": {"field": "v", "type": "quantitative", "scale": {"domain": [0, 12], "reverse": true, "nice": false},
             "axis": {"values": [0, 2, 4, 6, 8, 10, 12], "title": "Depth below surface [m]", "labelPadding": 10, "titlePadding": 6}},
           "color": {"datum": "Groundwater level fluctuation observed at well 64", "type": "nominal", "scale": {"range": ["#4f81bd"]},
             "legend": {"orient": "none", "legendX": 56, "legendY": 17, "symbolType": "M-3,0H3", "symbolSize": 128, "symbolStrokeWidth": 2.5, "labelOffset": 13}}
         }}
      ],
      "resolve": {"axis": {"x": "independent"}}
    },
    {
      "width": 489, "height": 249,
      "title": {"text": "(b)", "frame": "group", "offset": 7},
      "data": {"name": "b"},
      "layer": [
        {"mark": {"type": "rule", "strokeOpacity": 0},
         "encoding": {"x": {"field": "d", "type": "temporal", "scale": {"domain": [1094256000000, 1381449600000], "nice": false},
           "axis": {"orient": "bottom", "tickCount": {"interval": "month", "step": 1}, "labels": false, "grid": true, "gridColor": "#dadada", "title": null}}}},
        {"mark": {"type": "line"},
         "encoding": {
           "x": {"field": "d", "type": "temporal",
             "axis": {"orient": "bottom", "values": [1094256000000,1109980800000,1125705600000,1141430400000,1157155200000,1172880000000,1188604800000,1204329600000,1220054400000,1235779200000,1251504000000,1267228800000,1282953600000,1298678400000,1314403200000,1330128000000,1345852800000,1361577600000,1377302400000],
               "labelExpr": "utcFormat(datum.value, '%b-%y')", "labelAngle": -90, "labelPadding": 13, "grid": true, "gridColor": "#c4c4c4", "title": null}},
           "y": {"field": "v", "type": "quantitative", "scale": {"domain": [-2, 5], "nice": false},
             "axis": {"values": [-2, -1, 0, 1, 2, 3, 4, 5], "title": "Groundwater level change [m]", "labelPadding": 14, "titlePadding": 7}},
           "color": {"field": "s", "type": "nominal", "scale": {"domain": ["Groundwater decay observed at well 64", "Groundwater growth observed at well 64"], "range": ["#5b8cc8", "#c0504d"]},
             "legend": {"orient": "none", "legendX": 98, "legendY": 3, "symbolType": "M-3,0H3", "symbolSize": 205, "symbolStrokeWidth": 2.5, "labelOffset": 16, "rowPadding": 6}},
           "strokeDash": {"field": "s", "type": "nominal", "scale": {"domain": ["Groundwater decay observed at well 64", "Groundwater growth observed at well 64"], "range": [[2, 3], [1, 0]]},
             "legend": {"orient": "none", "legendX": 98, "legendY": 3, "symbolType": "M-3,0H3", "symbolSize": 205, "symbolStrokeWidth": 2.5, "labelOffset": 16, "rowPadding": 6}},
           "strokeWidth": {"field": "s", "type": "nominal", "scale": {"domain": ["Groundwater decay observed at well 64", "Groundwater growth observed at well 64"], "range": [2, 2.5]}, "legend": null},
           "detail": {"field": "g", "type": "nominal"}
         }}
      ],
      "resolve": {"axis": {"x": "independent"}}
    },
    {
      "width": 494, "height": 253,
      "title": {"text": "(c)", "frame": "group", "offset": 9},
      "data": {"name": "c"},
      "layer": [
        {"mark": {"type": "rule", "strokeOpacity": 0},
         "encoding": {"x": {"field": "d", "type": "temporal", "scale": {"domain": [1094256000000, 1386633600000], "nice": false},
           "axis": {"orient": "bottom", "tickCount": {"interval": "month", "step": 1}, "labels": false, "grid": true, "gridColor": "#dadada", "title": null}}}},
        {"data": {"values": [{}]}, "mark": {"type": "rule", "color": "#b4b4b4", "strokeWidth": 1}, "encoding": {"y": {"datum": 0, "type": "quantitative"}}},
        {"mark": {"type": "line", "strokeWidth": 2.5},
         "encoding": {
           "x": {"field": "d", "type": "temporal",
             "axis": {"orient": "bottom", "values": [1094256000000,1109980800000,1125705600000,1141430400000,1157155200000,1172880000000,1188604800000,1204329600000,1220054400000,1235779200000,1251504000000,1267228800000,1282953600000,1298678400000,1314403200000,1330128000000,1345852800000,1361577600000,1377302400000],
               "labelExpr": "utcFormat(datum.value, '%b-%y')", "labelAngle": -90, "labelPadding": 10, "grid": true, "gridColor": "#c4c4c4", "title": null}},
           "y": {"field": "v", "type": "quantitative", "scale": {"domain": [-0.5, 5], "nice": false},
             "axis": {"values": [-0.5, 0.5, 1.5, 2.5, 3.5, 4.5], "format": ".1f", "title": "Groundwater level change [m]", "labelPadding": 9, "titlePadding": 3}},
           "color": {"field": "s", "type": "nominal", "scale": {"domain": ["Groundwater growth observed at well 64", "Fitted groundwater growth using Hantush"], "range": ["#c0504d", "#a5c24e"]},
             "legend": {"orient": "none", "legendX": 87, "legendY": 18, "symbolType": "M-3,0H3", "symbolSize": 205, "symbolStrokeWidth": 2.5, "labelOffset": 16, "rowPadding": 9}},
           "strokeDash": {"field": "s", "type": "nominal", "scale": {"domain": ["Groundwater growth observed at well 64", "Fitted groundwater growth using Hantush"], "range": [[1, 0], [6, 4]]},
             "legend": {"orient": "none", "legendX": 87, "legendY": 18, "symbolType": "M-3,0H3", "symbolSize": 205, "symbolStrokeWidth": 2.5, "labelOffset": 16, "rowPadding": 9}},
           "detail": {"field": "g", "type": "nominal"}
         }}
      ],
      "resolve": {"axis": {"x": "independent"}}
    },
    {
      "width": 469, "height": 287,
      "title": {"text": "(d)", "frame": "group", "offset": 3, "fontSize": 11},
      "layer": [
        {"data": {"name": "d"},
         "mark": {"type": "line", "strokeWidth": 2.5},
         "encoding": {
           "x": {"field": "t", "type": "quantitative", "scale": {"domain": [0, 240], "nice": false},
             "axis": {"values": [0, 30, 60, 90, 120, 150, 180, 210, 240], "grid": false, "title": "Time since the start of recharge [day]", "labelFontSize": 12, "titleFontSize": 12, "labelPadding": 15, "titlePadding": 4}},
           "y": {"field": "v", "type": "quantitative", "scale": {"type": "log", "domain": [0.0001, 1], "nice": false},
             "axis": {"values": [0.0001,0.0002,0.0003,0.0004,0.0005,0.0006,0.0007,0.0008,0.0009,0.001,0.002,0.003,0.004,0.005,0.006,0.007,0.008,0.009,0.01,0.02,0.03,0.04,0.05,0.06,0.07,0.08,0.09,0.1,0.2,0.3,0.4,0.5,0.6,0.7,0.8,0.9,1],
               "labelExpr": "datum.value == 1 ? '1' : datum.value == 0.1 ? '0.1' : datum.value == 0.01 ? '0.01' : datum.value == 0.001 ? '0.001' : datum.value == 0.0001 ? '0.0001' : ''",
               "gridColor": {"condition": {"test": "datum.value == 1 || datum.value == 0.1 || datum.value == 0.01 || datum.value == 0.001 || datum.value == 0.0001", "value": "#c4c4c4"}, "value": "#e2e2e2"},
               "title": "Recharge rate [m/day]", "labelFontSize": 12, "titleFontSize": 12, "labelPadding": 11, "titlePadding": 2}},
           "color": {"field": "s", "type": "nominal",
             "scale": {"domain": ["Water year 2004-2005", "Water year 2005-2006", "Water year 2006-2007", "Water year 2007-2008", "Water year 2008-2009", "Water year 2009-2010", "Water year 2010-2011", "Water year 2011-2012"],
               "range": ["#c8505a", "#7fae3e", "#6b4c8c", "#4bacc6", "#f79646", "#8fb1dc", "#e09a9a", "#c5d3a6"]},
             "legend": {"orient": "none", "legendX": 49, "legendY": 4, "direction": "horizontal", "columns": 2, "columnPadding": 39, "rowPadding": 3.5, "symbolType": "M-3,0H3", "symbolSize": 178, "symbolStrokeWidth": 2.5, "labelFontSize": 13, "labelOffset": 15}},
           "strokeDash": {"field": "s", "type": "nominal",
             "scale": {"domain": ["Water year 2004-2005", "Water year 2005-2006", "Water year 2006-2007", "Water year 2007-2008", "Water year 2008-2009", "Water year 2009-2010", "Water year 2010-2011", "Water year 2011-2012"],
               "range": [[2, 2], [1, 0], [1, 0], [10, 4, 3, 4], [14, 6], [9, 7], [1, 0], [8, 4, 2, 4]]},
             "legend": {"orient": "none", "legendX": 49, "legendY": 4, "direction": "horizontal", "columns": 2, "columnPadding": 39, "rowPadding": 3.5, "symbolType": "M-3,0H3", "symbolSize": 178, "symbolStrokeWidth": 2.5, "labelFontSize": 13, "labelOffset": 15}}
         }},
        {"data": {"values": [{}]}, "mark": {"type": "rect", "fill": "white", "stroke": "#bfbfbf", "strokeWidth": 1},
         "encoding": {"x": {"datum": 137, "type": "quantitative"}, "x2": {"datum": 240}, "y": {"datum": 0.00013, "type": "quantitative"}, "y2": {"datum": 0.00026}}},
        {"data": {"values": [{}]}, "mark": {"type": "text", "fontSize": 12, "color": "#262626"},
         "encoding": {"x": {"datum": 190, "type": "quantitative"}, "y": {"datum": 0.000184, "type": "quantitative"}, "text": {"value": "kh=10 m/day, Sy=0.035"}}}
      ]
    }
  ]
}
